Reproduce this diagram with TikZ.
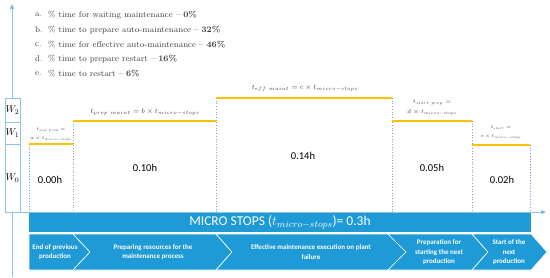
\RequirePackage{fix-cm}
\documentclass[tikz,border=0pt]{standalone}
\usepackage{fontspec}
\newfontfamily\calfont{Carlito}
\usetikzlibrary{arrows.meta}
\definecolor{barblue}{HTML}{1E9AD6}
\definecolor{axisblue}{HTML}{8CC3EA}
\definecolor{gold}{HTML}{FFC000}
\definecolor{dotblue}{HTML}{6FA8DC}
\definecolor{txtgray}{HTML}{404040}
\begin{document}
\begin{tikzpicture}[x=1pt,y=-1pt,
  axisline/.style={draw=axisblue, line width=0.8pt},
  tipstyle/.style={-{Triangle[width=4pt,length=5pt,fill=barblue]}},
  wcell/.style={draw=axisblue, fill=white, line width=0.6pt, minimum width=15pt, inner sep=0pt, font=\fontsize{10}{11}\selectfont},
  level/.style={draw=gold, line width=1.6pt},
  guide/.style={draw=dotblue, dotted, line width=0.7pt},
  chev/.style={fill=barblue, draw=white, line width=0.6pt},
  chevtxt/.style={text=white, align=center, font=\calfont\fontsize{7}{9.5}\selectfont\bfseries, inner sep=0pt},
  val/.style={font=\calfont\fontsize{10.5}{12}\selectfont, inner sep=0pt},
  lbl/.style={text=txtgray, align=center, inner sep=0pt},
  listtxt/.style={text=txtgray, anchor=west, inner sep=0pt, font=\fontsize{8.4}{9}\selectfont}
]
\useasboundingbox (0,0) rectangle (550,277);
% axes
\coordinate (vbot) at (12,277);
\coordinate (vtop) at (12,4);
\coordinate (hl) at (12,212);
\coordinate (hr) at (546,212);
\draw[axisline,tipstyle] (vbot) -- (vtop);
\draw[axisline,tipstyle] (hl) -- (hr);
% W box
\node[wcell, minimum height=24pt] (w2) at (12.5,110) {$W_2$};
\node[wcell, minimum height=22pt] (w1) at (12.5,133) {$W_1$};
\node[wcell, minimum height=68pt] (w0) at (12.5,178) {$W_0$};
% list
\node[listtxt] (la) at (35,15) {a.};
\node[listtxt] (lb) at (35,30) {b.};
\node[listtxt] (lc) at (35,44.5) {c.};
\node[listtxt] (ld) at (35,59) {d.};
\node[listtxt] (le) at (35,74) {e.};
\node[listtxt] (ta) at (48,15) {\% time for waiting maintenance -- \textbf{0\%}};
\node[listtxt] (tb) at (48,30) {\% time to prepare auto-maintenance -- \textbf{32\%}};
\node[listtxt] (tc) at (48,44.5) {\% time for effective auto-maintenance -- \textbf{46\%}};
\node[listtxt] (td) at (48,59) {\% time to prepare restart -- \textbf{16\%}};
\node[listtxt] (te) at (48,74) {\% time to restart -- \textbf{6\%}};
% level coordinates
\coordinate (a1) at (29,144); \coordinate (a2) at (73,144);
\coordinate (b1) at (73,121); \coordinate (b2) at (216,121);
\coordinate (c1) at (216,98); \coordinate (c2) at (392,98);
\coordinate (d1) at (392,121); \coordinate (d2) at (472,121);
\coordinate (e1) at (472,145); \coordinate (e2) at (530,145);
\coordinate (g1) at (29,212); \coordinate (g2) at (73,212); \coordinate (g3) at (216,212);
\coordinate (g4) at (392,212); \coordinate (g5) at (472,212); \coordinate (g6) at (530,212);
% guides
\draw[guide] (a1) -- (g1);
\draw[guide] (b1) -- (g2);
\draw[guide] (c1) -- (g3);
\draw[guide] (c2) -- (g4);
\draw[guide] (d2) -- (g5);
\draw[guide] (e2) -- (g6);
% levels
\draw[level] (a1) -- (a2);
\draw[level] (b1) -- (b2);
\draw[level] (c1) -- (c2);
\draw[level] (d1) -- (d2);
\draw[level] (e1) -- (e2);
% level labels
\node[lbl, font=\fontsize{4.6}{8.5}\selectfont] (lab-a) at (51,134.5) {$t_{end\ prod} =$\\$a\times t_{micro-stops}$};
\node[lbl, font=\fontsize{7}{8}\selectfont] (lab-b) at (145,112) {$t_{prep\ maint} = b\times t_{micro-stops}$};
\node[lbl, font=\fontsize{7}{8}\selectfont] (lab-c) at (305,88.5) {$t_{eff\ maint} = c\times t_{micro-stops}$};
\node[lbl, font=\fontsize{5.6}{10}\selectfont] (lab-d) at (432,107.5) {$t_{start\ prep} =$\\$d\times t_{micro-stops}$};
\node[lbl, font=\fontsize{4.6}{9}\selectfont] (lab-e) at (501,132) {$t_{start} =$\\$e\times t_{micro-stops}$};
% values
\node[val] (v-a) at (50,179.5) {0.00h};
\node[val] (v-b) at (145,167.5) {0.10h};
\node[val] (v-c) at (303,156) {0.14h};
\node[val] (v-d) at (432,168) {0.05h};
\node[val] (v-e) at (502,180) {0.02h};
% bar
\node[fill=barblue, minimum width=502pt, minimum height=19pt, inner sep=0pt, text=white,
  font=\calfont\fontsize{13.5}{15}\selectfont] (bar) at (280,222.5)
  {MICRO STOPS ($t_{micro-stops}$)= 0.3h};
% chevrons
\path[chev] (29,234) -- (73,234) -- (90,252) -- (73,270) -- (29,270) -- cycle;
\path[chev] (73,234) -- (216,234) -- (232,252) -- (216,270) -- (73,270) -- (90,252) -- cycle;
\path[chev] (216,234) -- (388,234) -- (406,252) -- (388,270) -- (216,270) -- (232,252) -- cycle;
\path[chev] (388,234) -- (472,234) -- (488,252) -- (472,270) -- (388,270) -- (406,252) -- cycle;
\path[chev] (472,234) -- (531,234) -- (547,252) -- (531,270) -- (472,270) -- (488,252) -- cycle;
\node[chevtxt] (c-1) at (55,252) {End of previous\\production};
\node[chevtxt] (c-2) at (153,252) {Preparing resources for the\\maintenance process};
\node[chevtxt] (c-3) at (311,252) {Effective maintenance execution on plant\\failure};
\node[chevtxt] (c-4) at (439,252.5) {Preparation for\\starting the next\\production};
\node[chevtxt] (c-5) at (509,252.5) {Start of the\\next\\production};
\end{tikzpicture}
\end{document}
